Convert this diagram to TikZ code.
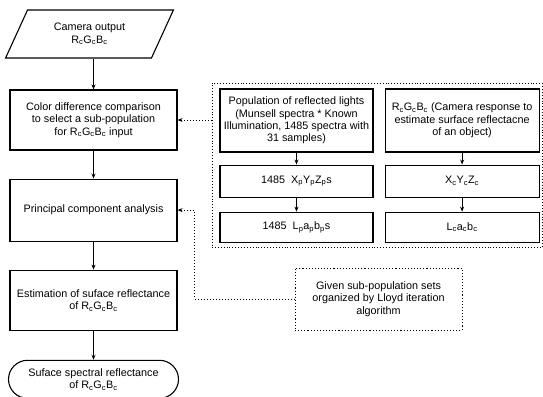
\documentclass[tikz,border=0pt]{standalone}
\usepackage{fontspec}
\setmainfont{Liberation Sans}
\usetikzlibrary{arrows.meta, positioning, shapes.geometric}

\newcommand{\rgbc}{R\textsubscript{c}G\textsubscript{c}B\textsubscript{c}}

\begin{document}
\begin{tikzpicture}[x=1pt, y=-1pt,
  box/.style={rectangle, draw, line width=1.1pt, inner sep=2pt,
              minimum width=167pt, minimum height=60pt,
              align=center, font=\fontsize{10.8}{12.4}\selectfont},
  inbox/.style={box, minimum width=153pt, minimum height=30pt},
  grpbox/.style={rectangle, draw, dotted, line width=0.9pt},
  arrow/.style={-{Stealth[length=5pt, width=4pt]}, line width=1.1pt},
  dotarrow/.style={-{Stealth[length=5pt, width=4pt]}, dotted, line width=1pt},
  node distance=28pt
]
\useasboundingbox (0,0) rectangle (543,396);

% main column
\node[box, trapezium, trapezium left angle=62.5, trapezium right angle=117.5,
      trapezium stretches=true, minimum width=168pt, minimum height=48pt]
  (camera) at (89.5,34) {Camera output\\\rgbc};
\node[box] (colorcmp) at (93.5,120)
  {Color difference comparison\\to select a sub-population\\for \rgbc{} input};
\node[box, minimum height=62pt, below=of colorcmp] (pca) {Principal component analysis};
\node[box, below=of pca] (estim) {Estimation of suface reflectance\\of \rgbc};
\node[box, rounded corners=19pt, minimum width=170pt, minimum height=38pt,
      below=29pt of estim] (result) {Suface spectral reflectance\\of \rgbc};

\draw[arrow] (camera.south -| colorcmp.north) -- (colorcmp.north);
\draw[arrow] (colorcmp) -- (pca);
\draw[arrow] (pca) -- (estim);
\draw[arrow] (estim) -- (result);

% reflected lights group
\node[grpbox, minimum width=330pt, minimum height=164pt] (grp) at (377,165) {};
\node[inbox, minimum height=63pt] (pop) at (296.5,120.5)
  {Population of reflected lights\\(Munsell spectra * Known\\Illumination, 1485 spectra with\\31 samples)};
\node[inbox, minimum width=154pt, minimum height=63pt, right=11pt of pop] (camresp)
  {\rgbc{} (Camera response to\\estimate surface reflectacne\\of an object)};
\node[inbox, minimum height=32pt, below=12pt of pop] (xyzp)
  {1485~~X\textsubscript{p}Y\textsubscript{p}Z\textsubscript{p}s};
\node[inbox, minimum width=154pt, minimum height=32pt, below=12pt of camresp] (xyzc)
  {X\textsubscript{c}Y\textsubscript{c}Z\textsubscript{c}};
\node[inbox, below=14pt of xyzp] (labp)
  {1485~~L\textsubscript{p}a\textsubscript{p}b\textsubscript{p}s};
\node[inbox, minimum width=154pt, below=14pt of xyzc] (labc)
  {L\textsubscript{c}a\textsubscript{c}b\textsubscript{c}};

\draw[arrow] (pop) -- (xyzp);
\draw[arrow] (xyzp) -- (labp);
\draw[arrow] (camresp) -- (xyzc);
\draw[arrow] (xyzc) -- (labc);

% lloyd sets
\node[box, dotted, line width=0.9pt, minimum height=62pt] (given) at (378.5,299)
  {Given sub-population sets\\organized by Lloyd iteration\\algorithm};

\draw[dotarrow] (grp.west |- colorcmp.east) -- (colorcmp.east);
\draw[dotarrow] (given.west) -| ([xshift=17pt]pca.east) -- (pca.east);

\end{tikzpicture}
\end{document}
